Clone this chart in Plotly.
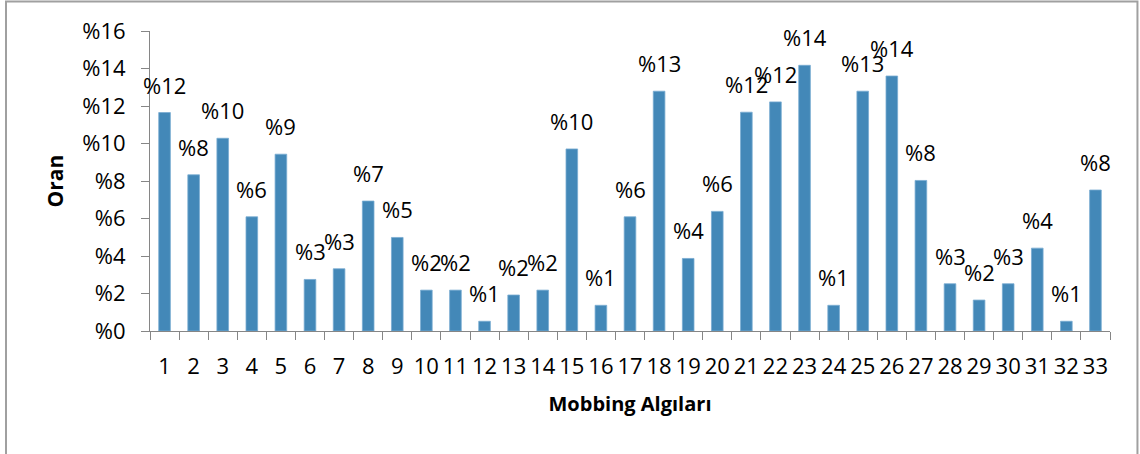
import math
import plotly.graph_objects as go

# Mobbing perception items and their share (%)
categories = [str(i) for i in range(1, 34)]
values = [11.65, 8.33, 10.28, 6.09, 9.43, 2.75, 3.32, 6.93, 4.99, 2.18,
          2.18, 0.52, 1.92, 2.18, 9.71, 1.37, 6.09, 12.79, 3.87, 6.38,
          11.67, 12.22, 14.17, 1.37, 12.79, 13.60, 8.03, 2.52, 1.65, 2.52,
          4.42, 0.52, 7.52]
y_ticks = [0, 2, 4, 6, 8, 10, 12, 14, 16]
y_ticklabels = ["%" + str(t) for t in y_ticks]
x_title = "Mobbing Algıları"
y_title = "Oran"

FONT = "Open Sans"
AXIS_GRAY = "#868686"
TXT = 22


def pct_label(v):
    return "%" + str(int(math.floor(v + 0.5)))


fig = go.Figure()
fig.add_trace(go.Bar(
    x=categories,
    y=values,
    width=0.4,
    marker=dict(color="#4388b8", line=dict(color="#78acd2", width=0.8)),
    hoverinfo="x+y",
))

# value labels sitting above each bar (positioned by category index)
for idx, v in enumerate(values):
    fig.add_annotation(
        x=idx, y=v, text=pct_label(v), showarrow=False,
        xanchor="center", yanchor="bottom", yshift=11,
        font=dict(family=FONT, size=TXT, color="#000000"),
    )

# outer chart frame
fig.add_shape(
    type="rect", xref="paper", yref="paper",
    x0=-0.1500, x1=1.0286, y0=-0.47, y1=1.0983,
    line=dict(color="#a0a0a0", width=2), fillcolor="rgba(0,0,0,0)",
    layer="below",
)

fig.update_layout(
    width=1140, height=454,
    margin=dict(l=150, r=30, t=31, b=123, autoexpand=False),
    paper_bgcolor="white", plot_bgcolor="white",
    showlegend=False,
    font=dict(family=FONT, size=TXT, color="#000000"),
    bargap=0.6,
)

fig.update_xaxes(
    type="category", automargin=False,
    range=[-0.5, len(categories) - 0.5],
    showline=True, linecolor=AXIS_GRAY, linewidth=1,
    ticks="outside", tickson="boundaries", ticklen=8, tickcolor=AXIS_GRAY,
    tickfont=dict(family=FONT, size=TXT, color="#000000"),
    tickangle=0,
    ticklabelstandoff=16,
    showgrid=False, zeroline=False,
    title=dict(text="<b>" + x_title + "</b>",
               font=dict(family=FONT, size=20, color="#000000"),
               standoff=17),
)

fig.update_yaxes(
    range=[0, 16], automargin=False,
    tickmode="array", tickvals=y_ticks, ticktext=y_ticklabels,
    showline=True, linecolor=AXIS_GRAY, linewidth=1,
    ticks="outside", ticklen=8, tickcolor=AXIS_GRAY,
    tickfont=dict(family=FONT, size=TXT, color="#000000"),
    ticklabelstandoff=11,
    showgrid=False, zeroline=False,
    title=dict(text="<b>" + y_title + "</b>",
               font=dict(family=FONT, size=21, color="#000000"),
               standoff=12),
)

fig.write_html("out.html")
